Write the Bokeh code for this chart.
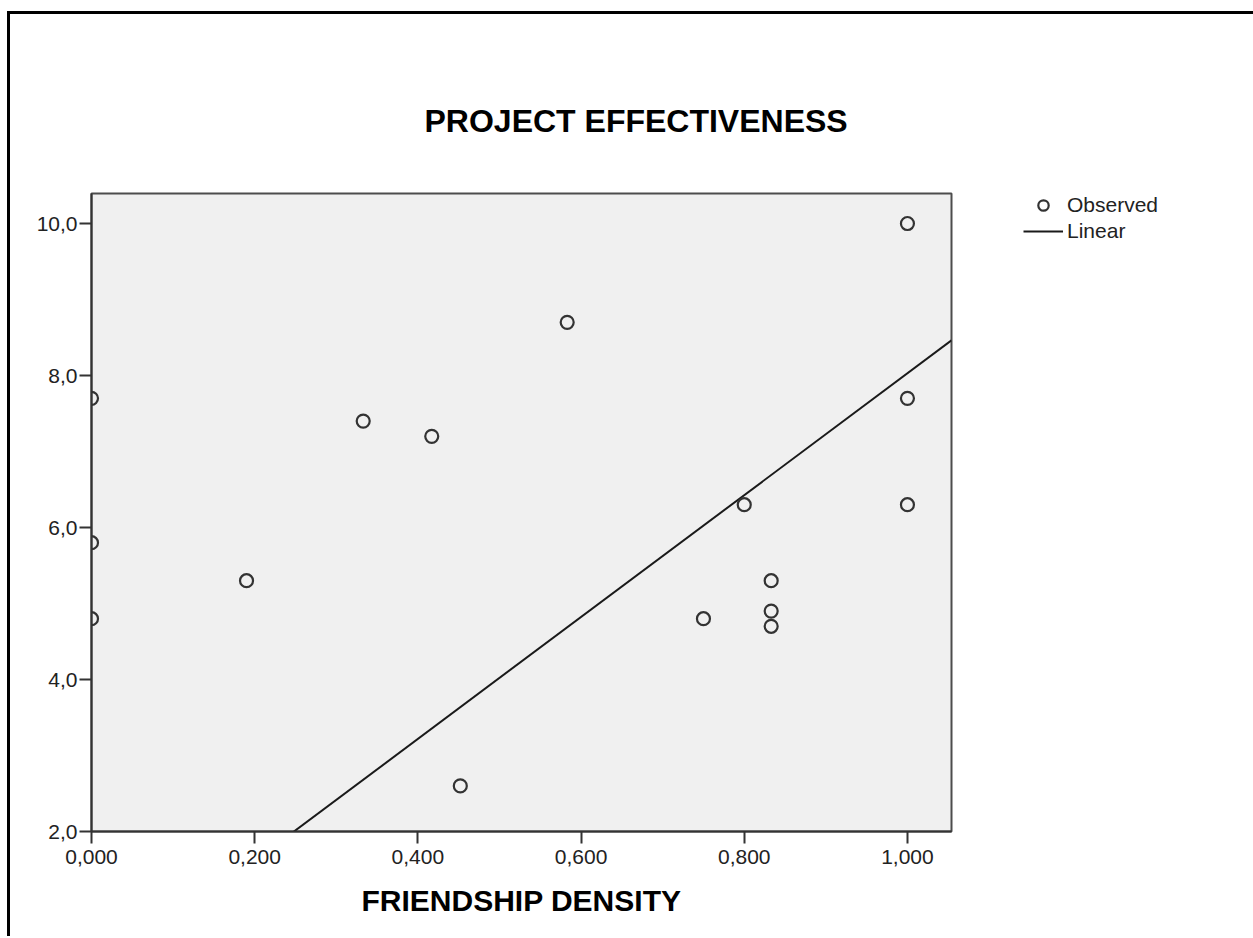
import numpy as np
from bokeh.plotting import figure
from bokeh.models import (Range1d, FixedTicker, CustomJSTickFormatter, Legend, LegendItem)
from bokeh.embed import file_html
from bokeh.resources import INLINE

# ---- data ----
friendship_density = [0.0, 0.0, 0.0, 0.19, 0.333, 0.417, 0.452, 0.583, 0.75, 0.8,
                      0.833, 0.833, 0.833, 1.0, 1.0, 1.0]
project_effectiveness = [7.7, 5.8, 4.8, 5.3, 7.4, 7.2, 2.6, 8.7, 4.8, 6.3,
                         5.3, 4.9, 4.7, 10.0, 7.7, 6.3]
fit_intercept = 0.01
fit_slope = 8.02
x_ticks = [0.0, 0.2, 0.4, 0.6, 0.8, 1.0]
y_ticks = [2.0, 4.0, 6.0, 8.0, 10.0]
title_text = "PROJECT EFFECTIVENESS"
x_label = "FRIENDSHIP DENSITY"
legend_labels = ["Observed", "Linear"]

X_MIN, X_MAX = 0.0, 1.054
Y_MIN, Y_MAX = 2.0, 10.395

FONT = "Liberation Sans"

p = figure(frame_width=860, frame_height=638,
           min_border_left=81, min_border_top=179, min_border_right=290, min_border_bottom=105,
           x_range=Range1d(X_MIN, X_MAX), y_range=Range1d(Y_MIN, Y_MAX),
           title=title_text, title_location="above",
           output_backend="svg", toolbar_location=None)
p.styles = {"border-top": "3px solid black", "border-left": "3px solid black",
            "margin-top": "11px", "margin-left": "7px"}

p.title.text_font = FONT
p.title.text_font_style = "bold"
p.title.text_font_size = "32px"
p.title.text_color = "black"
p.title.align = "left"
p.title.offset = 333
p.title.standoff = 110

p.background_fill_color = "#F0F0F0"
p.border_fill_color = "white"
p.outline_line_color = "#4d4d4d"
p.outline_line_width = 2
p.xgrid.visible = False
p.ygrid.visible = False

for ax in (p.xaxis[0], p.yaxis[0]):
    ax.axis_line_color = "#333333"
    ax.axis_line_width = 2
    ax.major_tick_line_color = "#333333"
    ax.major_tick_line_width = 2
    ax.major_tick_out = 12
    ax.major_tick_in = 0
    ax.minor_tick_line_color = None
    ax.major_label_text_font = FONT
    ax.major_label_text_font_size = "21px"
    ax.major_label_text_color = "#222222"

p.xaxis.ticker = FixedTicker(ticks=x_ticks, minor_ticks=[])
p.yaxis.ticker = FixedTicker(ticks=y_ticks, minor_ticks=[])
p.xaxis.formatter = CustomJSTickFormatter(code="return tick.toFixed(3).replace('.', ',')")
p.yaxis.formatter = CustomJSTickFormatter(code="return tick.toFixed(1).replace('.', ',')")
p.xaxis.major_label_standoff = 6
p.yaxis.major_label_standoff = 2

p.xaxis.axis_label = x_label
p.xaxis.axis_label_text_font = FONT
p.xaxis.axis_label_text_font_style = "bold"
p.xaxis.axis_label_text_font_size = "30px"
p.xaxis.axis_label_text_color = "black"
p.xaxis.axis_label_standoff = 17

# regression line
line_x = np.array([X_MIN, X_MAX])
line_y = fit_intercept + fit_slope * line_x
r_line = p.line(line_x, line_y, line_color="#1a1a1a", line_width=2)

# observed points
r_pts = p.scatter(friendship_density, project_effectiveness, marker="circle", size=13,
                  fill_color=None, line_color="#333333", line_width=2.2)

legend = Legend(items=[LegendItem(label=legend_labels[0], renderers=[r_pts]),
                       LegendItem(label=legend_labels[1], renderers=[r_line])],
                location=(72, 587), padding=0, spacing=0, margin=0,
                glyph_width=40, glyph_height=26, label_height=25, label_standoff=4,
                label_text_font=FONT, label_text_font_size="21px", label_text_color="#222222",
                border_line_color=None, background_fill_alpha=0)
p.add_layout(legend, "right")

open("out.html", "w").write(file_html(p, INLINE))
